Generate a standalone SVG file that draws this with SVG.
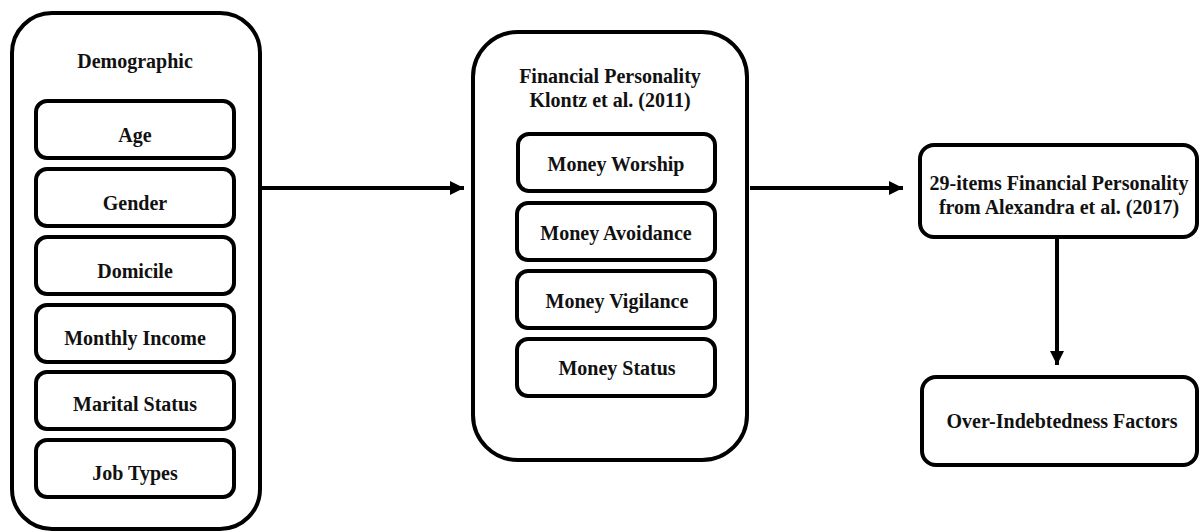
<svg xmlns="http://www.w3.org/2000/svg" width="1200" height="532" viewBox="0 0 1200 532">
<defs>
<style>
.box{fill:#fff;stroke:#000;stroke-width:4}
.t{font-family:"Liberation Serif","Times New Roman",serif;font-weight:bold;font-size:20px;fill:#111;text-anchor:middle}
.c{stroke:#000;stroke-width:4;fill:none}
</style>
<marker id="ah" viewBox="0 0 10 10" refX="10" refY="5" markerWidth="3.6" markerHeight="3.6" orient="auto" markerUnits="strokeWidth">
<path d="M0,0 L10,5 L0,10 Z" fill="#000"/>
</marker>
</defs>
<rect width="1200" height="532" fill="#fff"/>
<g id="demographic">
<rect class="box" x="12" y="13" width="248" height="516" rx="40"/>
<text class="t" x="135" y="68">Demographic</text>
</g>
<g id="age"><rect class="box" x="36" y="101" width="198" height="57" rx="11"/><text class="t" x="135" y="142">Age</text></g>
<g id="gender"><rect class="box" x="36" y="169" width="198" height="57" rx="11"/><text class="t" x="135" y="210">Gender</text></g>
<g id="domicile"><rect class="box" x="36" y="237" width="198" height="57" rx="11"/><text class="t" x="135" y="278">Domicile</text></g>
<g id="income"><rect class="box" x="36" y="305" width="198" height="57" rx="11"/><text class="t" x="135" y="345">Monthly Income</text></g>
<g id="marital"><rect class="box" x="36" y="372" width="198" height="57" rx="11"/><text class="t" x="135" y="411">Marital Status</text></g>
<g id="job"><rect class="box" x="36" y="440" width="198" height="57" rx="11"/><text class="t" x="135" y="480">Job Types</text></g>

<g id="financial">
<rect class="box" x="473" y="32" width="274" height="428" rx="45"/>
<text class="t" x="610" y="83">Financial Personality</text>
<text class="t" x="610" y="107">Klontz et al. (2011)</text>
</g>
<g id="worship"><rect class="box" x="518" y="134" width="197" height="57" rx="11"/><text class="t" x="616" y="171">Money Worship</text></g>
<g id="avoidance"><rect class="box" x="517" y="203" width="198" height="57" rx="11"/><text class="t" x="616" y="240">Money Avoidance</text></g>
<g id="vigilance"><rect class="box" x="517" y="271" width="198" height="57" rx="11"/><text class="t" x="617" y="308">Money Vigilance</text></g>
<g id="status"><rect class="box" x="517" y="339" width="198" height="57" rx="11"/><text class="t" x="617" y="375">Money Status</text></g>

<g id="items29">
<rect class="box" x="920" y="145" width="277" height="92" rx="14"/>
<text class="t" x="1059" y="190">29-items Financial Personality</text>
<text class="t" x="1059" y="214">from Alexandra et al. (2017)</text>
</g>
<g id="overindebt">
<rect class="box" x="922" y="377" width="275" height="88" rx="14"/>
<text class="t" x="1062" y="428">Over-Indebtedness Factors</text>
</g>

<g id="connectors">
<line class="c" x1="262" y1="188" x2="464" y2="188" marker-end="url(#ah)"/>
<line class="c" x1="750" y1="188" x2="903" y2="188" marker-end="url(#ah)"/>
<line class="c" x1="1057" y1="239" x2="1057" y2="365" marker-end="url(#ah)"/>
</g>
</svg>
